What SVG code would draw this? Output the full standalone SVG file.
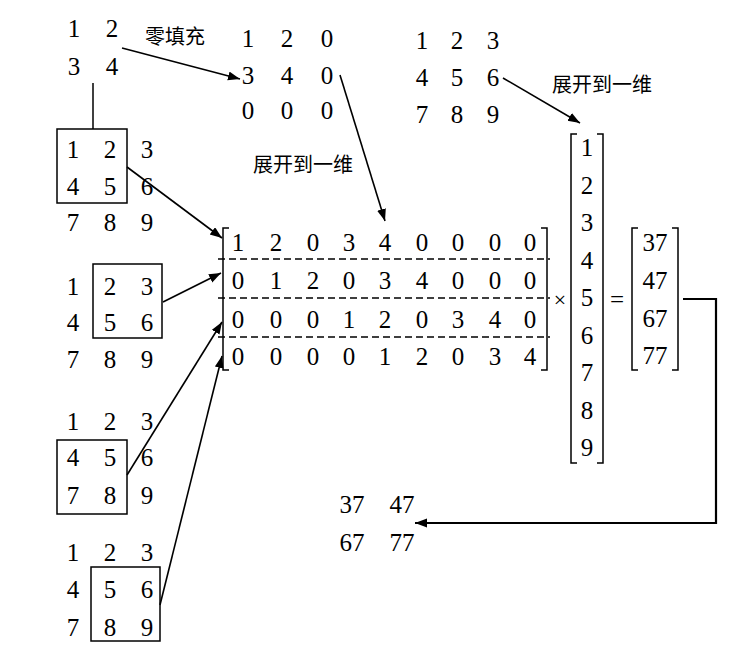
<svg xmlns="http://www.w3.org/2000/svg" width="747" height="651" viewBox="0 0 747 651">
<defs>
<marker id="ah" markerWidth="13" markerHeight="10" refX="12" refY="4.5" orient="auto" markerUnits="userSpaceOnUse">
<path d="M0,0 L12,4.5 L0,9 z" fill="#000"/>
</marker>
</defs>
<style>
text{fill:#000;text-anchor:middle}
.n{font-family:'Liberation Serif','Times New Roman',serif;font-size:25px}
.c{font-family:'Noto Sans CJK SC','Noto Sans',sans-serif;font-size:20px}
.box{fill:none;stroke:#000;stroke-width:1.5}
.br{fill:none;stroke:#000;stroke-width:1.5}
.ln{fill:none;stroke:#000;stroke-width:1.5}
.ar{fill:none;stroke:#000;stroke-width:1.6;marker-end:url(#ah)}
.dash{stroke:#000;stroke-width:1.5;stroke-dasharray:7 4}
</style>
<rect width="747" height="651" fill="#fff"/>

<g id="kernel">
<text class="n" x="74" y="37">1</text><text class="n" x="112" y="37">2</text>
<text class="n" x="74" y="75">3</text><text class="n" x="112" y="75">4</text>
</g>

<g id="padded">
<text class="n" x="248" y="47">1</text><text class="n" x="287" y="47">2</text><text class="n" x="327" y="47">0</text>
<text class="n" x="248" y="84">3</text><text class="n" x="287" y="84">4</text><text class="n" x="327" y="84">0</text>
<text class="n" x="248" y="119">0</text><text class="n" x="287" y="119">0</text><text class="n" x="327" y="119">0</text>
</g>

<g id="input">
<text class="n" x="422" y="49">1</text><text class="n" x="457" y="49">2</text><text class="n" x="493" y="49">3</text>
<text class="n" x="422" y="86">4</text><text class="n" x="457" y="86">5</text><text class="n" x="493" y="86">6</text>
<text class="n" x="422" y="123">7</text><text class="n" x="457" y="123">8</text><text class="n" x="493" y="123">9</text>
</g>

<g id="labels">
<text class="c" x="175" y="44">零填充</text>
<text class="c" x="303" y="172">展开到一维</text>
<text class="c" x="602" y="92">展开到一维</text>
</g>

<g id="win1">
<rect class="box" x="57" y="129" width="70" height="74"/>
<text class="n" x="73" y="158">1</text><text class="n" x="110" y="158">2</text><text class="n" x="147" y="158">3</text>
<text class="n" x="73" y="195">4</text><text class="n" x="110" y="195">5</text><text class="n" x="147" y="195">6</text>
<text class="n" x="73" y="231">7</text><text class="n" x="110" y="231">8</text><text class="n" x="147" y="231">9</text>
</g>

<g id="win2">
<rect class="box" x="93" y="264" width="69" height="74"/>
<text class="n" x="73" y="295">1</text><text class="n" x="110" y="295">2</text><text class="n" x="147" y="295">3</text>
<text class="n" x="73" y="331">4</text><text class="n" x="110" y="331">5</text><text class="n" x="147" y="331">6</text>
<text class="n" x="73" y="368">7</text><text class="n" x="110" y="368">8</text><text class="n" x="147" y="368">9</text>
</g>

<g id="win3">
<rect class="box" x="57" y="440" width="70" height="74"/>
<text class="n" x="73" y="430">1</text><text class="n" x="110" y="430">2</text><text class="n" x="147" y="430">3</text>
<text class="n" x="73" y="466">4</text><text class="n" x="110" y="466">5</text><text class="n" x="147" y="466">6</text>
<text class="n" x="73" y="504">7</text><text class="n" x="110" y="504">8</text><text class="n" x="147" y="504">9</text>
</g>

<g id="win4">
<rect class="box" x="91" y="567" width="69" height="74"/>
<text class="n" x="73" y="561">1</text><text class="n" x="110" y="561">2</text><text class="n" x="147" y="561">3</text>
<text class="n" x="73" y="598">4</text><text class="n" x="110" y="598">5</text><text class="n" x="147" y="598">6</text>
<text class="n" x="73" y="636">7</text><text class="n" x="110" y="636">8</text><text class="n" x="147" y="636">9</text>
</g>

<g id="matrix">
<path class="br" d="M229,228 H223 V370 H229"/>
<path class="br" d="M541,228 H547 V370 H541"/>
<line class="dash" x1="218" y1="259" x2="550" y2="259"/>
<line class="dash" x1="218" y1="298" x2="550" y2="298"/>
<line class="dash" x1="218" y1="337" x2="550" y2="337"/>
<text class="n" x="238" y="251">1</text><text class="n" x="276" y="251">2</text><text class="n" x="313" y="251">0</text><text class="n" x="349" y="251">3</text><text class="n" x="385" y="251">4</text><text class="n" x="422" y="251">0</text><text class="n" x="458" y="251">0</text><text class="n" x="495" y="251">0</text><text class="n" x="530" y="251">0</text>
<text class="n" x="238" y="289">0</text><text class="n" x="276" y="289">1</text><text class="n" x="313" y="289">2</text><text class="n" x="349" y="289">0</text><text class="n" x="385" y="289">3</text><text class="n" x="422" y="289">4</text><text class="n" x="458" y="289">0</text><text class="n" x="495" y="289">0</text><text class="n" x="530" y="289">0</text>
<text class="n" x="238" y="328">0</text><text class="n" x="276" y="328">0</text><text class="n" x="313" y="328">0</text><text class="n" x="349" y="328">1</text><text class="n" x="385" y="328">2</text><text class="n" x="422" y="328">0</text><text class="n" x="458" y="328">3</text><text class="n" x="495" y="328">4</text><text class="n" x="530" y="328">0</text>
<text class="n" x="238" y="365">0</text><text class="n" x="276" y="365">0</text><text class="n" x="313" y="365">0</text><text class="n" x="349" y="365">0</text><text class="n" x="385" y="365">1</text><text class="n" x="422" y="365">2</text><text class="n" x="458" y="365">0</text><text class="n" x="495" y="365">3</text><text class="n" x="530" y="365">4</text>
</g>

<g id="times">
<text class="n" x="560" y="307" style="font-size:22px">×</text>
</g>

<g id="vector">
<path class="br" d="M577,134 H571 V463 H577"/>
<path class="br" d="M597,134 H603 V463 H597"/>
<text class="n" x="587" y="156">1</text>
<text class="n" x="587" y="193.5">2</text>
<text class="n" x="587" y="231">3</text>
<text class="n" x="587" y="268.5">4</text>
<text class="n" x="587" y="306">5</text>
<text class="n" x="587" y="343.5">6</text>
<text class="n" x="587" y="381">7</text>
<text class="n" x="587" y="418.5">8</text>
<text class="n" x="587" y="456">9</text>
</g>

<g id="equals">
<text class="n" x="617" y="308">=</text>
</g>

<g id="result">
<path class="br" d="M638,228 H632 V370 H638"/>
<path class="br" d="M672,228 H678 V370 H672"/>
<text class="n" x="655" y="251">37</text>
<text class="n" x="655" y="289">47</text>
<text class="n" x="655" y="327">67</text>
<text class="n" x="655" y="364">77</text>
</g>

<g id="output">
<text class="n" x="352" y="513">37</text><text class="n" x="402" y="513">47</text>
<text class="n" x="352" y="551">67</text><text class="n" x="402" y="551">77</text>
</g>

<g id="connectors">
<line class="ln" x1="93" y1="83" x2="93" y2="129"/>
<line class="ar" x1="122" y1="48" x2="240" y2="79"/>
<line class="ar" x1="340" y1="75" x2="385" y2="221"/>
<line class="ar" x1="503" y1="78" x2="580" y2="123"/>
<line class="ar" x1="127" y1="167" x2="222" y2="238"/>
<line class="ar" x1="163" y1="302" x2="221" y2="273"/>
<line class="ar" x1="127" y1="475" x2="222" y2="322"/>
<line class="ar" x1="160" y1="605" x2="222" y2="356"/>
<polyline class="ar" style="stroke-width:2.2" points="683,299 716,299 716,523 415,523"/>
</g>
</svg>
